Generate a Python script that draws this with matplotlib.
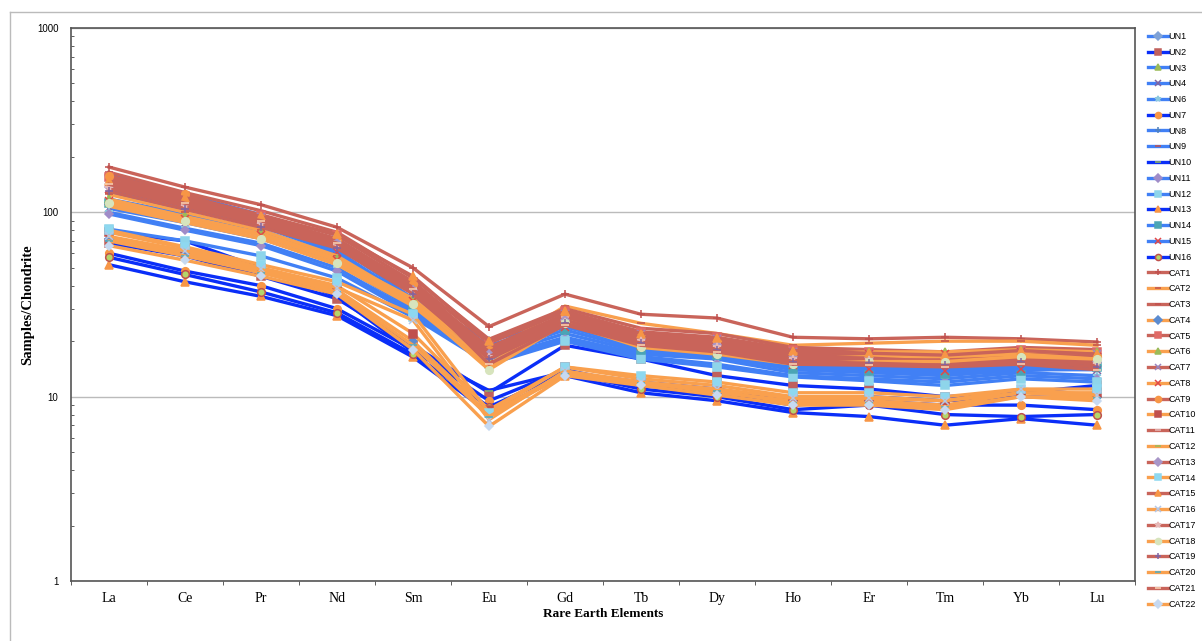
import numpy as np
import matplotlib.pyplot as plt
from matplotlib.lines import Line2D

# rare earth elements on the x axis
elements = ['La', 'Ce', 'Pr', 'Nd', 'Sm', 'Eu', 'Gd', 'Tb', 'Dy', 'Ho', 'Er', 'Tm', 'Yb', 'Lu']

# chondrite-normalised values, UN samples
UN1 = [160, 125, 97, 66, 34, 20, 26, 20, 19, 16, 15.5, 14.5, 15, 17]
UN2 = [68, 58, 45, 34, 19, 10.5, 19, 16, 13, 11.5, 11, 10, 10.5, 11.5]
UN3 = [118, 98, 80, 58, 31, 17.5, 24, 18.5, 17.5, 15, 14.5, 14, 14.5, 15.5]
UN4 = [105, 88, 72, 53, 30, 16.5, 22, 17.5, 16.5, 14, 13.5, 13, 14, 14]
UN6 = [100, 82, 68, 50, 29, 16, 21, 17, 16, 13.5, 13, 12.5, 13.5, 13]
UN7 = [60, 48, 40, 30, 18, 9.5, 14, 11.5, 10.5, 9, 9.5, 9, 9, 8.5]
UN8 = [140, 112, 88, 62, 33, 19, 25, 19.5, 18, 15.5, 15, 14, 14.5, 16.5]
UN9 = [128, 104, 84, 60, 32, 18, 24.5, 19, 17, 14.5, 14, 13.5, 14, 15]
UN10 = [78, 70, 50, 35, 17.5, 10.8, 13.6, 12, 11, 9.5, 10, 9.5, 10, 9.8]
UN11 = [98, 80, 66, 48, 28, 15.5, 20.5, 16.5, 15, 13, 12.5, 12, 13, 12.5]
UN12 = [81, 70, 58, 44, 27, 15, 20, 16, 14.5, 12.8, 12.2, 11.5, 12.5, 12]
UN13 = [52, 42, 35, 27.5, 16.4, 8.2, 13, 10.5, 9.5, 8.2, 7.8, 7, 7.6, 7]
UN14 = [112, 93, 77, 56, 30.5, 17, 23, 18, 16.8, 14.2, 13.8, 13.2, 13.8, 14.5]
UN15 = [134, 108, 86, 61, 32.5, 18.5, 24, 18.8, 17.2, 14.8, 14.2, 13.8, 14.2, 16]
UN16 = [57, 46, 37, 28.5, 17, 8.8, 13.5, 11, 10, 8.5, 9, 8, 7.8, 8]

# chondrite-normalised values, CAT samples
CAT1 = [176, 137, 110, 83, 50, 24, 36, 28, 26.7, 21, 20.6, 21, 20.6, 19.8]
CAT2 = [125, 100, 80, 58, 33, 17, 31, 25, 22, 19, 19.5, 20, 20, 19]
CAT3 = [165, 128, 102, 78, 44, 20.5, 30, 23.5, 22, 18.5, 18, 17.5, 18.5, 18]
CAT4 = [72, 60, 48, 38, 20, 8, 13.5, 12, 10.5, 9.5, 9.5, 9, 10.5, 10]
CAT5 = [155, 122, 97, 75, 42, 19.5, 29, 22.5, 21, 18, 17.5, 16.8, 18, 17.5]
CAT6 = [118, 95, 77, 56, 34, 16, 28, 21, 19.5, 17, 17.5, 17.5, 18, 17.5]
CAT7 = [150, 118, 94, 72, 40, 18.5, 28, 22, 20.5, 17.5, 17, 16.5, 17.5, 17]
CAT8 = [115, 92, 75, 55, 33, 15, 27, 20, 19, 16.5, 17, 17, 17.5, 16.5]
CAT9 = [158, 125, 93, 70, 41, 18, 27.5, 21.5, 20, 17, 16.8, 16.2, 17, 16.5]
CAT10 = [78, 64, 50, 40, 22, 8.5, 14.5, 12.5, 11.5, 10, 10, 9.5, 10.5, 10.5]
CAT11 = [145, 115, 92, 70, 39, 17.5, 27, 21, 19.5, 16.8, 16.5, 16, 16.8, 16]
CAT12 = [108, 88, 72, 52, 31, 14.5, 26, 19.5, 18, 16, 16.5, 16.5, 17, 16]
CAT13 = [138, 110, 88, 68, 38, 17, 26, 20.5, 19, 16.5, 16.2, 15.5, 16.2, 15.5]
CAT14 = [80, 65, 52, 42, 28, 8.2, 14.5, 13, 12, 10.5, 10.5, 10, 11, 11]
CAT15 = [147, 120, 95, 76, 45, 20, 29, 22, 20.8, 17.8, 17.2, 16.8, 17.8, 17]
CAT16 = [74, 62, 49, 39, 26, 7.5, 13.8, 12, 11, 9.8, 9.8, 9.5, 11, 10.2]
CAT17 = [135, 108, 86, 66, 37, 16.5, 25.5, 20, 18.5, 16, 15.8, 15.2, 16, 15]
CAT18 = [112, 90, 72, 53, 32, 14, 25, 18.5, 17, 15, 15.5, 15.5, 16.5, 16]
CAT19 = [130, 104, 83, 64, 36, 16, 25, 19.5, 18, 15.5, 15.2, 14.8, 15.5, 14.5]
CAT20 = [70, 58, 47, 37, 19, 7.8, 13.2, 11.8, 10.8, 9.2, 9.2, 8.8, 10, 9.8]
CAT21 = [142, 112, 90, 68, 38.5, 15, 24.5, 19, 17.5, 15, 14.8, 14.5, 15, 14]
CAT22 = [66, 55, 45, 36, 18, 6.9, 13, 11.5, 10.2, 9, 9, 8.5, 10, 9.5]

names = ['UN1', 'UN2', 'UN3', 'UN4', 'UN6', 'UN7', 'UN8', 'UN9', 'UN10', 'UN11',
         'UN12', 'UN13', 'UN14', 'UN15', 'UN16'] + ['CAT%d' % i for i in range(1, 23)]
values = [UN1, UN2, UN3, UN4, UN6, UN7, UN8, UN9, UN10, UN11, UN12, UN13, UN14, UN15, UN16,
          CAT1, CAT2, CAT3, CAT4, CAT5, CAT6, CAT7, CAT8, CAT9, CAT10, CAT11,
          CAT12, CAT13, CAT14, CAT15, CAT16, CAT17, CAT18, CAT19, CAT20, CAT21, CAT22]

light_blue = '#4180F5'
dark_blue = '#0A2EF8'
red = '#C9645A'
orange = '#F9A04E'

line_colors = [light_blue, dark_blue, light_blue, light_blue, light_blue, dark_blue,
               light_blue, light_blue, dark_blue, light_blue, light_blue, dark_blue,
               light_blue, light_blue, dark_blue] + [red, orange] * 11

# marker shape / colour per series
markers = [('D', '#7FA2D6'), ('s', '#C0605D'), ('^', '#9BBB59'), ('x', '#8064A2'),
           ('*', '#8CC8E0'), ('o', '#F79646'), ('+', '#4F81BD'), ('_', '#C0504D'),
           ('_', '#9BBB59'), ('D', '#A08CC8'), ('s', '#8ED5EA'), ('^', '#F79646'),
           ('s', '#4BA5B5'), ('x', '#E04848'), ('o', '#B5D56A'),
           ('+', '#C0504D'), ('_', '#C0504D'), ('_', '#C0504D'), ('D', '#5B8BD0'),
           ('s', '#E06A66'), ('^', '#9BBB59'), ('x', '#9A86BE'), ('x', '#E04848'),
           ('o', '#F79646'), ('s', '#C0504D'), ('_', '#E6B8B7'), ('_', '#9BBB59'),
           ('D', '#A896C8'), ('s', '#8ED8F0'), ('^', '#F79646'), ('x', '#B4C7E7'),
           ('*', '#E6B8B7'), ('o', '#D7E4BD'), ('+', '#8064A2'), ('_', '#4BACC6'),
           ('_', '#FCD5B4'), ('D', '#C6D9F1')]

fig = plt.figure(figsize=(12.02, 6.41), dpi=100)
ax = fig.add_axes([71 / 1202, 60 / 641, 1064 / 1202, 553 / 641])

x = np.arange(len(elements))
for name, vals, lc, (mk, mc) in zip(names, values, line_colors, markers):
    ms = 4.5 if mk == 'D' else 5.5
    edge = '#C0504D' if name == 'UN16' else mc
    ax.plot(x, vals, color=lc, lw=2.4, marker=mk, markersize=ms,
            markerfacecolor=mc, markeredgecolor=edge, markeredgewidth=1.1,
            solid_joinstyle='miter', label=name)

ax.set_yscale('log')
ax.set_ylim(1, 1000)
ax.set_xlim(-0.5, len(elements) - 0.5)

ax.set_xticks(x)
ax.set_xticklabels(elements, family='Liberation Serif', fontsize=10)
ax.set_xticks(np.arange(-0.5, len(elements)), minor=True)
ax.tick_params(axis='x', which='major', length=0, pad=8)
ax.tick_params(axis='x', which='minor', length=3, direction='out', color='#444444')

ax.set_yticks([1, 10, 100, 1000])
ax.set_yticklabels(['1', '10', '100', '1000'], family='Liberation Sans', fontsize=7)
ax.tick_params(axis='y', which='major', length=0, pad=9)
ax.tick_params(axis='y', which='minor', length=2, direction='in', color='#444444',
               labelleft=False)

ax.grid(axis='y', which='major', color='#BBBBBB', lw=1)
ax.set_axisbelow(True)
for sp in ax.spines.values():
    sp.set_color('#555555')
    sp.set_linewidth(1.2)

ax.set_xlabel('Rare Earth Elements', family='Liberation Serif', fontsize=9.5,
              fontweight='bold', labelpad=2)
ax.set_ylabel('Samples/Chondrite', family='Liberation Serif', fontsize=10.5,
              fontweight='bold', labelpad=0)
ax.yaxis.set_label_coords(-37 / 1064, 0.5)

fig.legend(loc='upper left', bbox_to_anchor=(1148 / 1202, 1 - 32 / 641),
           frameon=False, prop={'family': 'Liberation Sans', 'size': 6.5},
           handlelength=2.2, handletextpad=0.05, labelspacing=0.75,
           markerscale=0.8, borderaxespad=0, borderpad=0)

# thin outer frame
fig.add_artist(Line2D([10 / 1202, 10 / 1202], [0, 1 - 12 / 641], color='#BBBBBB', lw=1))
fig.add_artist(Line2D([10 / 1202, 1], [1 - 12 / 641, 1 - 12 / 641], color='#BBBBBB', lw=1))

fig.savefig('out.png', dpi=100)
